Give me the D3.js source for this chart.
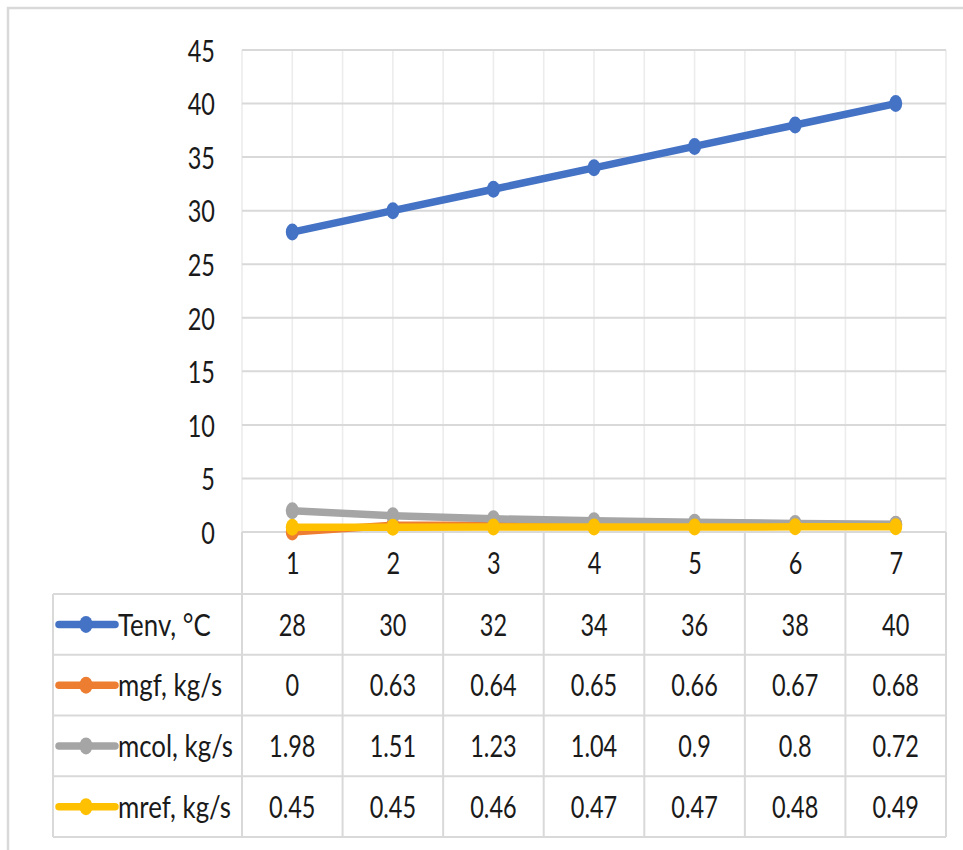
<!DOCTYPE html>
<html>
<head>
<meta charset="utf-8">
<script src="https://cdn.jsdelivr.net/npm/d3@7/dist/d3.min.js"></script>
<style>
  html, body { margin: 0; padding: 0; background: #fff; }
  svg { display: block; }
  text { font-family: Lato, "Open Sans", "Noto Sans", sans-serif; fill: #1a1a1a; }
</style>
</head>
<body>
<svg id="chart" width="963" height="850"></svg>
<script>
// Category labels along the x axis
const categories = [1, 2, 3, 4, 5, 6, 7];

// Series values
const tenv = [28, 30, 32, 34, 36, 38, 40];
const mgf  = [0, 0.63, 0.64, 0.65, 0.66, 0.67, 0.68];
const mcol = [1.98, 1.51, 1.23, 1.04, 0.9, 0.8, 0.72];
const mref = [0.45, 0.45, 0.46, 0.47, 0.47, 0.48, 0.49];

// Y axis tick labels
const yTicks = [0, 5, 10, 15, 20, 25, 30, 35, 40, 45];

const seriesNames  = ["Tenv, °C", "mgf, kg/s", "mcol, kg/s", "mref, kg/s"];
const seriesColors = ["#4472C4", "#ED7D31", "#A5A5A5", "#FFC000"];

const series = [tenv, mgf, mcol, mref].map((values, i) => ({
  name: seriesNames[i], color: seriesColors[i], values
}));

const svg = d3.select("#chart");

// Layout
const plotLeft = 242, plotRight = 946, plotTop = 50, plotBottom = 532;
const tableLeft = 53;
const catRowBottom = 594;
const rowH = 60.75;
const textScaleY = 1.33;
const fontSize = 23.5;

const x = d3.scalePoint().domain(categories).range([plotLeft, plotRight]).padding(0.5);
const y = d3.scaleLinear().domain([0, 45]).range([plotBottom, plotTop]);
const step = x.step();

// Outer frame
svg.append("path")
  .attr("d", `M8,850 L8,8 L963,8`)
  .attr("fill", "none").attr("stroke", "#d9d9d9").attr("stroke-width", 2.5);

// Vertical gridlines at category centres and boundaries
const vLines = [];
categories.forEach(c => { vLines.push(x(c) - step / 2); vLines.push(x(c)); });
vLines.push(plotRight);
svg.append("g").selectAll("line").data(vLines).join("line")
  .attr("x1", d => d).attr("x2", d => d)
  .attr("y1", plotTop).attr("y2", plotBottom)
  .attr("stroke", "#ececec").attr("stroke-width", 1.6);

// Horizontal gridlines
svg.append("g").selectAll("line").data(yTicks).join("line")
  .attr("x1", plotLeft).attr("x2", plotRight)
  .attr("y1", d => y(d)).attr("y2", d => y(d))
  .attr("stroke", "#d9d9d9").attr("stroke-width", 2);

// Y axis labels
const yAxis = svg.append("g")
  .attr("transform", `translate(${plotLeft},0)`)
  .call(d3.axisLeft(y).tickValues(yTicks).tickSize(0).tickPadding(27));
yAxis.select(".domain").remove();
yAxis.attr("font-family", null).attr("font-size", null);
yAxis.selectAll(".tick text")
  .attr("x", null)
  .attr("text-anchor", "end")
  .attr("font-size", fontSize)
  .attr("transform", `translate(-27,0) scale(1,${textScaleY})`)
  .attr("dy", "0.36em");

// Table grid: category row and data rows
const boundaries = categories.map(c => x(c) - step / 2).concat([plotRight]);
const rowLines = d3.range(series.length + 1).map(i => catRowBottom + i * rowH);
const tableBottom = rowLines[rowLines.length - 1];

const grid = svg.append("g").attr("stroke", "#d9d9d9").attr("stroke-width", 2);
grid.selectAll("line.h").data(rowLines).join("line")
  .attr("class", "h")
  .attr("x1", tableLeft).attr("x2", plotRight)
  .attr("y1", d => d).attr("y2", d => d);
grid.selectAll("line.v").data(boundaries).join("line")
  .attr("class", "v")
  .attr("x1", d => d).attr("x2", d => d)
  .attr("y1", plotBottom).attr("y2", tableBottom);
grid.append("line")
  .attr("x1", tableLeft).attr("x2", tableLeft)
  .attr("y1", catRowBottom).attr("y2", tableBottom);

// Category labels
const xAxis = svg.append("g")
  .attr("transform", `translate(0,${(plotBottom + catRowBottom) / 2})`)
  .call(d3.axisBottom(x).tickSize(0).tickPadding(0));
xAxis.select(".domain").remove();
xAxis.attr("font-family", null).attr("font-size", null);
xAxis.selectAll(".tick text")
  .attr("y", null).attr("dy", "0.36em")
  .attr("font-size", fontSize)
  .attr("transform", `scale(1,${textScaleY})`);

// Lines and markers
const line = d3.line().x((d, i) => x(categories[i])).y(d => y(d));
const plot = svg.append("g");
series.forEach(s => {
  const g = plot.append("g");
  g.append("path")
    .attr("d", line(s.values))
    .attr("fill", "none")
    .attr("stroke", s.color)
    .attr("stroke-width", 7.5)
    .attr("stroke-linejoin", "round")
    .attr("stroke-linecap", "round");
  g.selectAll("ellipse").data(s.values).join("ellipse")
    .attr("cx", (d, i) => x(categories[i]))
    .attr("cy", d => y(d))
    .attr("rx", 6.5).attr("ry", 8.5)
    .attr("fill", s.color);
});

// Data table rows: legend key, series name and values
series.forEach((s, r) => {
  const cy = catRowBottom + r * rowH + rowH / 2;
  const row = svg.append("g");
  row.append("line")
    .attr("x1", 59).attr("x2", 115)
    .attr("y1", cy).attr("y2", cy)
    .attr("stroke", s.color).attr("stroke-width", 7.5)
    .attr("stroke-linecap", "round");
  row.append("ellipse")
    .attr("cx", 86).attr("cy", cy)
    .attr("rx", 6.5).attr("ry", 8.5)
    .attr("fill", s.color);
  row.append("text")
    .attr("transform", `translate(118,${cy}) scale(1.1,${textScaleY})`)
    .attr("font-size", fontSize)
    .attr("dy", "0.36em")
    .text(s.name);
  row.selectAll("text.v").data(s.values).join("text")
    .attr("class", "v")
    .attr("transform", (d, i) => `translate(${x(categories[i])},${cy}) scale(1,${textScaleY})`)
    .attr("text-anchor", "middle")
    .attr("font-size", fontSize)
    .attr("dy", "0.36em")
    .text(d => String(d));
});
</script>
</body>
</html>
